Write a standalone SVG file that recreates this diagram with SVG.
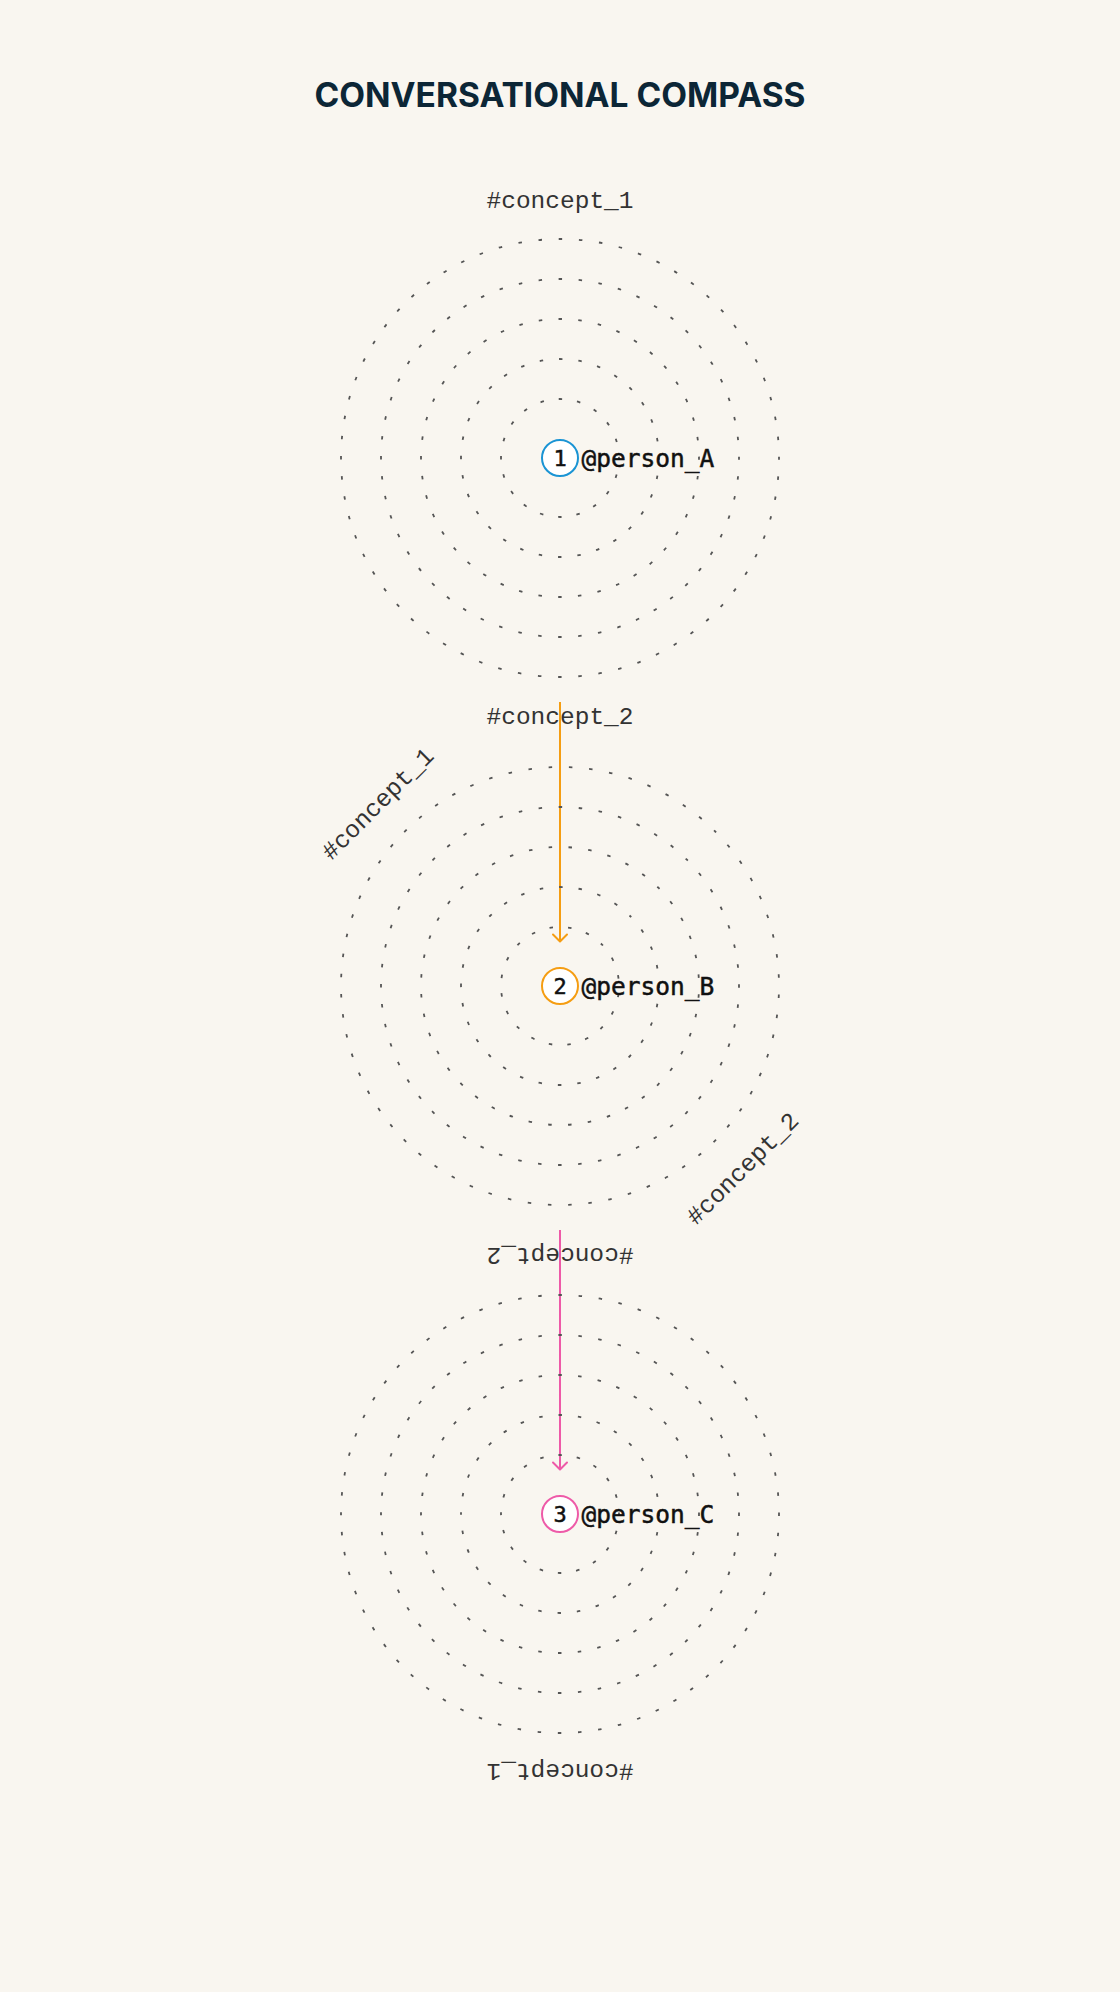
<svg xmlns="http://www.w3.org/2000/svg" xmlns:xlink="http://www.w3.org/1999/xlink" width="1120" height="1992" viewBox="0 0 1120 1992">
  <style>
    .title { font-family: Inter, "Liberation Sans", sans-serif; font-weight: 700; font-size: 33.5px; fill: #0c2636; }
    .concept { font-family: "Liberation Mono", "DejaVu Sans Mono", monospace; font-size: 24.5px; fill: #333333; text-anchor: middle; }
    .person { font-family: "DejaVu Sans Mono", "Liberation Mono", monospace; font-size: 24.5px; fill: #111111; stroke: #111111; stroke-width: 0.5; }
    .num { font-family: "DejaVu Sans Mono", "Liberation Mono", monospace; font-size: 22px; fill: #111111; stroke: #111111; stroke-width: 0.5; text-anchor: middle; }
    .ring { fill: none; stroke: #555555; stroke-width: 1.8; stroke-dashoffset: 1.75; }
    .badge { fill: #ffffff; stroke-width: 2; }
    .conn { fill: none; stroke-width: 2; }
  </style>
  <defs>
    <g id="rings">
      <circle class="ring" cx="0" cy="0" r="59" stroke-dasharray="3.5 15.035"/>
      <circle class="ring" cx="0" cy="0" r="99" stroke-dasharray="3.5 15.939"/>
      <circle class="ring" cx="0" cy="0" r="139" stroke-dasharray="3.5 16.349"/>
      <circle class="ring" cx="0" cy="0" r="179" stroke-dasharray="3.5 16.584"/>
      <circle class="ring" cx="0" cy="0" r="219" stroke-dasharray="3.5 16.736"/>
    </g>
    <marker id="arrow-orange" markerUnits="userSpaceOnUse" viewBox="-10 -10 20 20" refX="0" refY="0" markerWidth="20" markerHeight="20" orient="auto">
      <path d="M-7,-7 L0,0 L-7,7" fill="none" stroke="#f59d12" stroke-width="2" stroke-linecap="round" stroke-linejoin="round"/>
    </marker>
    <marker id="arrow-pink" markerUnits="userSpaceOnUse" viewBox="-10 -10 20 20" refX="0" refY="0" markerWidth="20" markerHeight="20" orient="auto">
      <path d="M-7,-7 L0,0 L-7,7" fill="none" stroke="#ee5aa8" stroke-width="2" stroke-linecap="round" stroke-linejoin="round"/>
    </marker>
  </defs>

  <rect x="0" y="0" width="1120" height="1992" fill="#f9f6f0"/>

  <text class="title" x="560" y="107" text-anchor="middle">CONVERSATIONAL COMPASS</text>

  <g id="connectors">
    <line class="conn" x1="560" y1="702" x2="560" y2="941.5" stroke="#f59d12" marker-end="url(#arrow-orange)"/>
    <line class="conn" x1="560" y1="1230" x2="560" y2="1469.5" stroke="#ee5aa8" marker-end="url(#arrow-pink)"/>
  </g>

  <g id="compass-A">
    <g transform="translate(560 458)">
      <use xlink:href="#rings" href="#rings"/>
      <text class="concept" x="0" y="-250">#concept_1</text>
      <text class="concept" x="0" y="266">#concept_2</text>
    </g>
    <circle class="badge" cx="560" cy="458" r="18" stroke="#1a94d4"/>
    <text class="num" x="560" y="465.5">1</text>
    <text class="person" x="581.5" y="467">@person_A</text>
  </g>

  <g id="compass-B">
    <g transform="translate(560 986) rotate(-45)">
      <use xlink:href="#rings" href="#rings"/>
      <text class="concept" x="0" y="-250">#concept_1</text>
      <text class="concept" x="0" y="266">#concept_2</text>
    </g>
    <circle class="badge" cx="560" cy="986" r="18" stroke="#f59d12"/>
    <text class="num" x="560" y="993.5">2</text>
    <text class="person" x="581.5" y="995">@person_B</text>
  </g>

  <g id="compass-C">
    <g transform="translate(560 1514) rotate(180)">
      <use xlink:href="#rings" href="#rings"/>
      <text class="concept" x="0" y="-250">#concept_1</text>
      <text class="concept" x="0" y="266">#concept_2</text>
    </g>
    <circle class="badge" cx="560" cy="1514" r="18" stroke="#ee5aa8"/>
    <text class="num" x="560" y="1521.5">3</text>
    <text class="person" x="581.5" y="1523">@person_C</text>
  </g>
</svg>
